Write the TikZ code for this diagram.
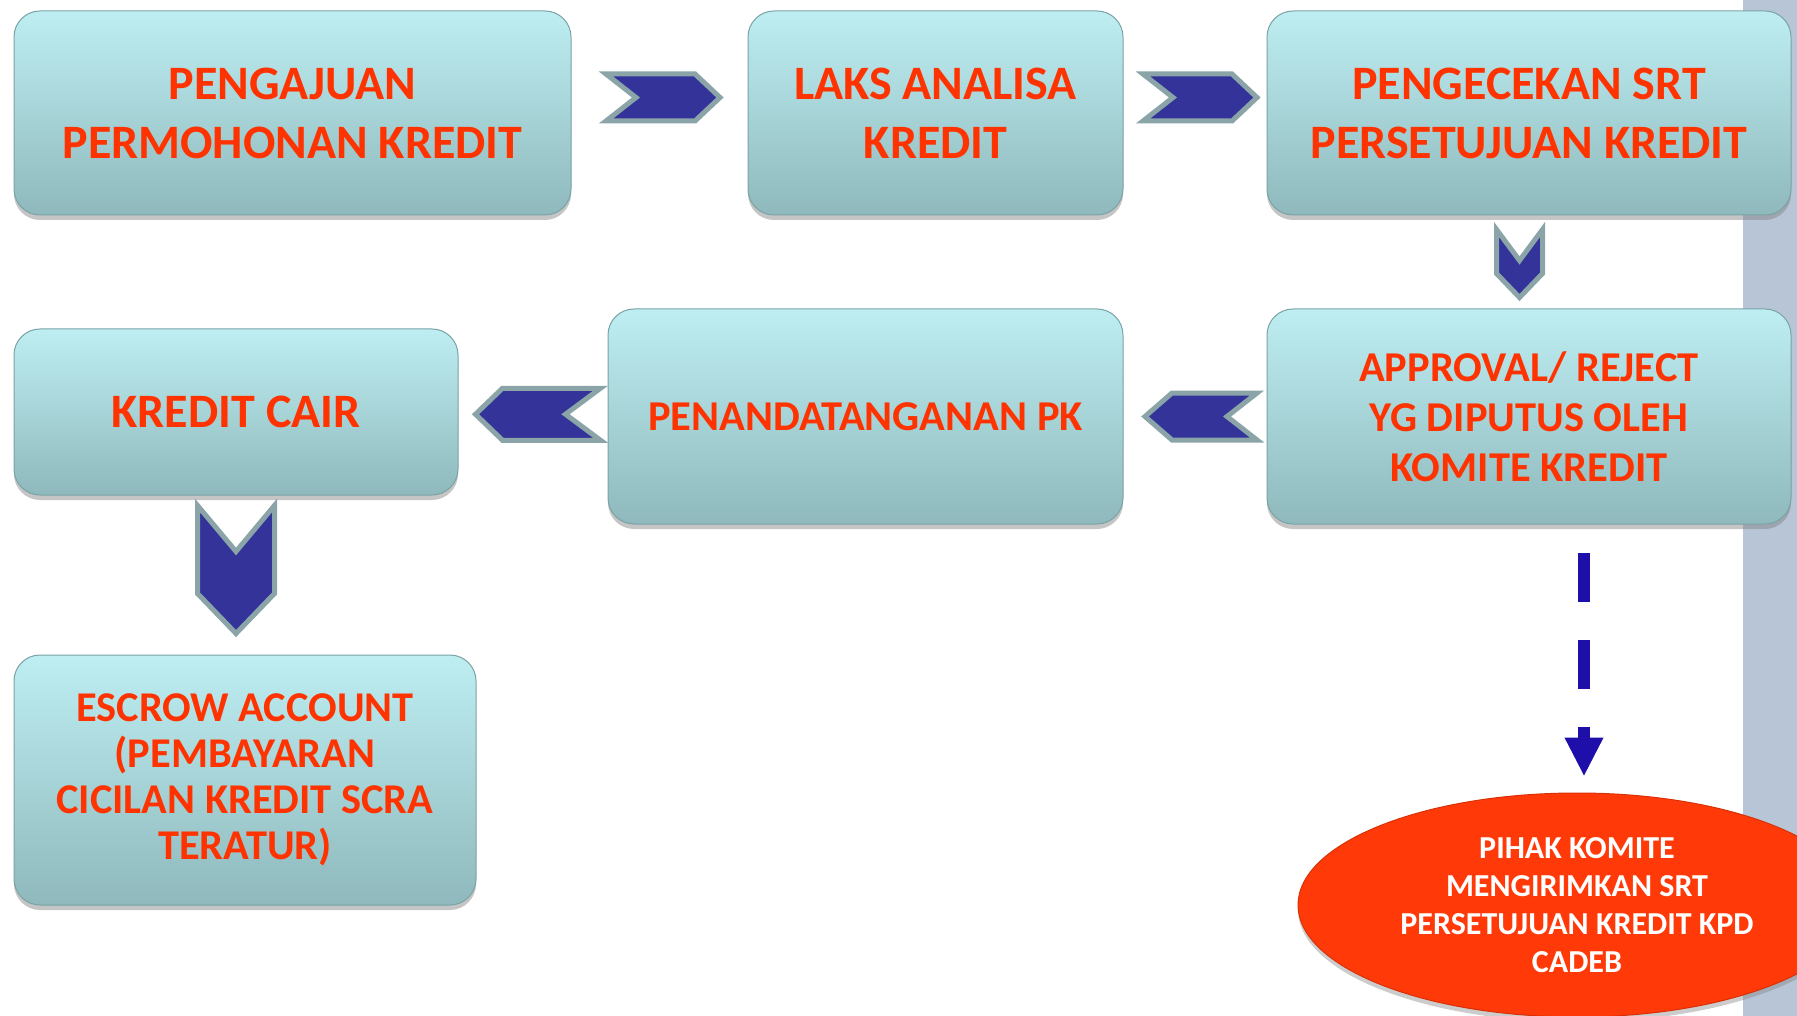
\documentclass[tikz,border=0pt]{standalone}
\usepackage{fontspec}
\setmainfont{Carlito}
\usetikzlibrary{shapes.geometric,shadows,calc,arrows.meta}

\definecolor{boxtop}{HTML}{BEEEF2}
\definecolor{boxbottom}{HTML}{8FB9BC}
\definecolor{boxline}{HTML}{7AA3A6}
\definecolor{redtext}{HTML}{FF3300}
\definecolor{chevblue}{HTML}{333399}
\definecolor{chevgray}{HTML}{8AA4A8}
\definecolor{dashblue}{HTML}{1E0EAA}
\definecolor{sidebar}{HTML}{B8C5D7}
\definecolor{ellred}{HTML}{FF3A08}

\tikzset{
  stage/.style={rectangle, rounded corners=26pt, draw=boxline, line width=1pt,
    top color=boxtop, bottom color=boxbottom, text=redtext, align=center, inner sep=0pt,
    drop shadow={shadow xshift=0pt, shadow yshift=-5pt, opacity=0.45}},
  bigtxt/.style={font=\bfseries\fontsize{48}{59}\selectfont},
  midtxt/.style={font=\bfseries\fontsize{42.5}{50}\selectfont},
  smalltxt/.style={font=\bfseries\fontsize{42.4}{46}\selectfont},
  report/.style={ellipse, fill=ellred, draw=ellred!85!black, line width=1pt, text=white,
    align=center, inner sep=0pt, font=\bfseries\fontsize{32}{38}\selectfont,
    drop shadow={shadow xshift=0pt, shadow yshift=-5pt, opacity=0.4}},
  chevron/.style={fill=chevblue, draw=chevgray, line width=5pt, line join=miter},
  dashflow/.style={dashblue, line width=12pt, dash pattern=on 49pt off 38pt,
    shorten <=28pt, shorten >=16pt, -{Triangle[width=36pt,length=39pt]}},
  pics/chev/.style args={#1/#2/#3/#4}{code={
    \draw[chevron] (-#1/2+#3,0) -- (-#1/2,-#2/2) -- (#1/2-#4,-#2/2) -- (#1/2,0)
      -- (#1/2-#4,#2/2) -- (-#1/2,#2/2) -- cycle;
  }},
}

\begin{document}
\begin{tikzpicture}[x=1pt, y=-1pt]
    \clip (0,0) rectangle (1797,1016);
    \fill[white] (0,0) rectangle (1797,1016);
    \fill[sidebar] (1743,0) rectangle (1797,1016);

    % Steps
    \node[stage, bigtxt, minimum width=557pt, minimum height=204pt] (apply) at (292.5,113)
        {PENGAJUAN\\PERMOHONAN KREDIT};
    \node[stage, bigtxt, minimum width=375pt, minimum height=204pt] (analysis) at (935.5,113)
        {LAKS ANALISA\\KREDIT};
    \node[stage, bigtxt, minimum width=524pt, minimum height=204pt] (check) at (1529,113)
        {PENGECEKAN SRT\\PERSETUJUAN KREDIT};
    \node[stage, midtxt, minimum width=524pt, minimum height=215pt] (approve) at (1529,416.5)
        {APPROVAL/ REJECT\\YG DIPUTUS OLEH\\KOMITE KREDIT};
    \node[stage, midtxt, minimum width=515pt, minimum height=215pt] (signing) at (865.5,416.5)
        {PENANDATANGANAN PK};
    \node[stage, bigtxt, minimum width=444pt, minimum height=166pt] (disburse) at (236,412)
        {KREDIT CAIR};
    \node[stage, smalltxt, minimum width=462pt, minimum height=250pt] (escrow) at (245,780)
        {ESCROW ACCOUNT\\(PEMBAYARAN\\CICILAN KREDIT SCRA\\TERATUR)};
    \node[report, minimum width=558pt, minimum height=224pt] (notify) at (1577,905)
        {PIHAK KOMITE\\MENGIRIMKAN SRT\\PERSETUJUAN KREDIT KPD\\CADEB};

    % Chevrons between steps
    \pic at ($(apply.east)!.5!(analysis.west)+(3.5,-15.5)$) {chev=114/47/30/25};
    \pic at ($(analysis.east)!.5!(check.west)+(5,-15.5)$) {chev=114/47/30/25};
    \pic[rotate=-90] at ($(check.south)!.5!(approve.north)+(-9.5,1.5)$) {chev=68/46/31/24};
    \pic[rotate=180] at ($(approve.west)!.5!(signing.east)+(6,0)$) {chev=112/47/30/27};
    \pic[rotate=180] at ($(signing.west)!.5!(disburse.east)+(5,0)$) {chev=125/52/35/27};
    \pic[rotate=-90] at ($(disburse.south)!.5!(escrow.north)+(-4.5,-5.5)$) {chev=128/77/46/40};

    % Dashed arrow to committee
    \draw[dashflow] ([xshift=7pt]notify.north |- approve.south) -- ([xshift=7pt]notify.north);
\end{tikzpicture}
\end{document}
